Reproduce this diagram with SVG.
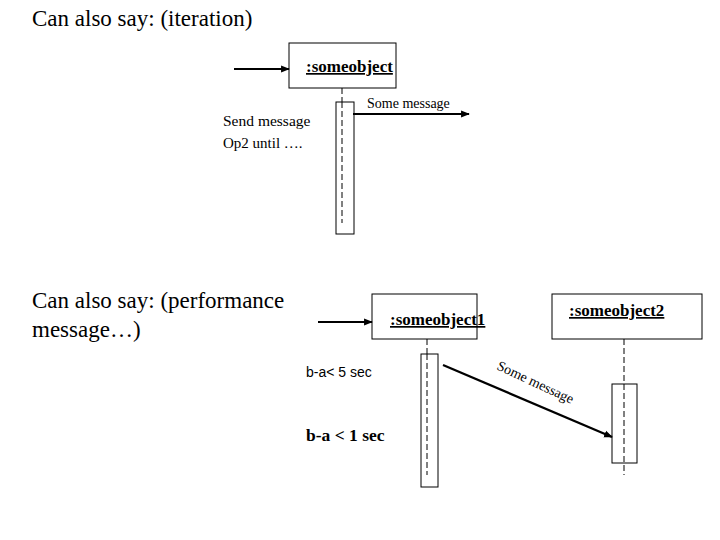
<svg xmlns="http://www.w3.org/2000/svg" width="720" height="540" viewBox="0 0 720 540">
<style>
.t{font-family:"Liberation Serif","Times New Roman",serif;fill:#000}
.s{font-family:"Liberation Sans",Arial,sans-serif;fill:#000}
.obj{font-family:"Liberation Serif","Times New Roman",serif;font-weight:bold;font-size:17px;text-decoration:underline;fill:#000}
.box{fill:#fff;stroke:#000;stroke-width:1}
.life{stroke:#000;stroke-width:1;stroke-dasharray:6,3;fill:none}
.msg{stroke:#000;stroke-width:2.2;fill:none;marker-end:url(#ah)}
</style>
<defs>
<marker id="ah" viewBox="0 0 10 10" refX="9" refY="5" markerWidth="4" markerHeight="4" orient="auto" markerUnits="strokeWidth">
<path d="M0,1 L10,5 L0,9 z" fill="#000"/>
</marker>
</defs>
<rect width="720" height="540" fill="#fff"/>
<text class="t" x="32" y="26" font-size="23">Can also say: (iteration)</text>
<text class="t" x="32" y="308" font-size="23">Can also say: (performance</text>
<text class="t" x="32" y="337" font-size="23">message…)</text>

<g id="someobject">
<rect class="box" x="289" y="43" width="107" height="45"/>
<text class="obj" x="306" y="72">:someobject</text>
<line class="life" x1="342" y1="88" x2="342" y2="102"/>
<rect class="box" x="336" y="102" width="18" height="132"/>
<line class="life" x1="342" y1="102" x2="342" y2="223"/>
</g>
<g id="someobject1">
<rect class="box" x="372" y="294" width="105" height="45"/>
<text class="obj" x="390" y="325">:someobject1</text>
<line class="life" x1="427" y1="339" x2="427" y2="354"/>
<rect class="box" x="421" y="354" width="17" height="133"/>
<line class="life" x1="427" y1="354" x2="427" y2="475"/>
</g>
<g id="someobject2">
<rect class="box" x="552" y="294" width="150" height="45"/>
<text class="obj" x="569" y="316">:someobject2</text>
<line class="life" x1="624" y1="339" x2="624" y2="384"/>
<rect class="box" x="612" y="384" width="25" height="79"/>
<line class="life" x1="624" y1="384" x2="624" y2="475"/>
</g>

<g id="labels">
<text class="t" x="223" y="126" font-size="15.5">Send message</text>
<text class="t" x="223" y="148" font-size="15">Op2 until ….</text>
<text class="s" x="306" y="377" font-size="14">b-a&lt; 5 sec</text>
<text class="t" x="306" y="441" font-size="17.5" font-weight="bold">b-a &lt; 1 sec</text>
</g>

<g id="connectors">
<line class="msg" x1="234" y1="69" x2="289" y2="69"/>
<line class="msg" x1="353" y1="114" x2="469" y2="114"/>
<text class="t" x="367" y="108" font-size="14">Some message</text>
<line class="msg" x1="443" y1="365" x2="612" y2="437"/>
<line class="msg" x1="318" y1="322" x2="372" y2="322"/>
<text class="t" font-size="14" transform="translate(496,369) rotate(25)">Some message</text>
</g>
</svg>
